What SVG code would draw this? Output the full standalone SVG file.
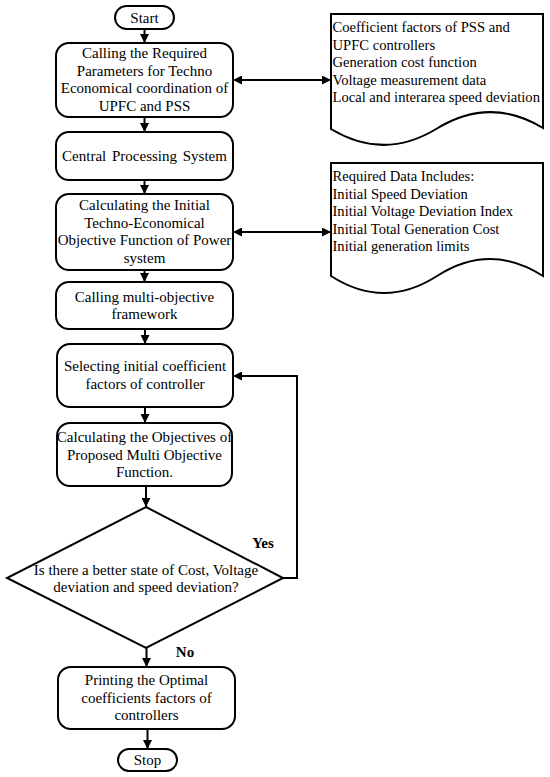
<svg xmlns="http://www.w3.org/2000/svg" width="550" height="777" viewBox="0 0 550 777">
<style>
.box{fill:#fff;stroke:#000;stroke-width:2}
.t{font-family:"Liberation Serif","Times New Roman",serif;font-size:15px;fill:#000}
.d{font-size:14.6px}
.c{text-anchor:middle}
.b{font-weight:bold}
.ln{fill:none;stroke:#000;stroke-width:2}
</style>
<defs>
<marker id="ah" viewBox="0 0 10 10" refX="10" refY="5" markerWidth="9" markerHeight="9" markerUnits="userSpaceOnUse" orient="auto-start-reverse">
<path d="M0,0 L10,5 L0,10 z" fill="#000"/>
</marker>
</defs>
<rect width="550" height="777" fill="#fff"/>
<g id="connectors">
<line class="ln" x1="144.5" y1="29" x2="144.5" y2="43" marker-end="url(#ah)"/>
<line class="ln" x1="144.5" y1="117" x2="144.5" y2="132" marker-end="url(#ah)"/>
<line class="ln" x1="144.5" y1="180" x2="144.5" y2="194" marker-end="url(#ah)"/>
<line class="ln" x1="144.5" y1="270" x2="144.5" y2="282" marker-end="url(#ah)"/>
<line class="ln" x1="145" y1="329" x2="145" y2="344" marker-end="url(#ah)"/>
<line class="ln" x1="145" y1="407" x2="145" y2="423" marker-end="url(#ah)"/>
<line class="ln" x1="146" y1="486" x2="146" y2="507" marker-end="url(#ah)"/>
<line class="ln" x1="146.5" y1="648" x2="146.5" y2="667" marker-end="url(#ah)"/>
<line class="ln" x1="147.5" y1="729" x2="147.5" y2="749" marker-end="url(#ah)"/>
<line class="ln" x1="233" y1="80" x2="331" y2="80" marker-start="url(#ah)" marker-end="url(#ah)"/>
<line class="ln" x1="233" y1="232" x2="331" y2="232" marker-start="url(#ah)" marker-end="url(#ah)"/>
<polyline class="ln" points="283,578 297,578 297,376 233,376" marker-end="url(#ah)"/>
<text class="t b c" x="263" y="548">Yes</text>
<text class="t b c" x="185" y="657">No</text>
</g>
<g id="start">
<rect class="box" x="115" y="6" width="59" height="23" rx="11.5"/>
<text class="t c" x="144.5" y="22.5">Start</text>
</g>
<g id="params">
<rect class="box" x="56" y="43" width="177" height="74" rx="13"/>
<text class="t c" x="144.5" y="58">Calling the Required</text>
<text class="t c" x="144.5" y="75.5">Parameters for Techno</text>
<text class="t c" x="144.5" y="93">Economical coordination of</text>
<text class="t c" x="144.5" y="110.5">UPFC and PSS</text>
</g>
<g id="cps">
<rect class="box" x="56" y="132" width="177" height="48" rx="13"/>
<text class="t c" x="144.5" y="161" word-spacing="2">Central Processing System</text>
</g>
<g id="initial">
<rect class="box" x="56" y="194" width="177" height="76" rx="13"/>
<text class="t c" x="144.5" y="210">Calculating the Initial</text>
<text class="t c" x="144.5" y="227.5">Techno-Economical</text>
<text class="t c" x="144.5" y="245">Objective Function of Power</text>
<text class="t c" x="144.5" y="262.5">system</text>
</g>
<g id="multi">
<rect class="box" x="56" y="282" width="177" height="47" rx="13"/>
<text class="t c" x="144.5" y="301.5">Calling multi-objective</text>
<text class="t c" x="144.5" y="319">framework</text>
</g>
<g id="select">
<rect class="box" x="57" y="344" width="176" height="63" rx="13"/>
<text class="t c" x="145" y="371">Selecting initial coefficient</text>
<text class="t c" x="145" y="388.5">factors of controller</text>
</g>
<g id="objectives">
<rect class="box" x="57" y="423" width="175" height="63" rx="13"/>
<text class="t c" x="144.5" y="442">Calculating the Objectives of</text>
<text class="t c" x="144.5" y="459.5">Proposed Multi Objective</text>
<text class="t c" x="144.5" y="477">Function.</text>
</g>
<g id="decision">
<polygon class="box" points="146,507 283,578 146,648 7,578"/>
<text class="t c" x="146" y="575">Is there a better state of Cost, Voltage</text>
<text class="t c" x="146" y="592">deviation and speed deviation?</text>
</g>
<g id="print">
<rect class="box" x="58" y="667" width="177" height="62" rx="13"/>
<text class="t c" x="146.5" y="685">Printing the Optimal</text>
<text class="t c" x="146.5" y="702.5">coefficients factors of</text>
<text class="t c" x="146.5" y="720">controllers</text>
</g>
<g id="stop">
<rect class="box" x="118" y="749" width="59" height="22" rx="11"/>
<text class="t c" x="147.5" y="765">Stop</text>
</g>
<g id="doc1">
<path class="box" d="M331,14 L543,14 L543,128 Q490,96 437,128.5 Q384,161 331,129 Z"/>
<text class="t d" x="332.5" y="32">Coefficient factors of PSS and</text>
<text class="t d" x="332.5" y="49.5">UPFC controllers</text>
<text class="t d" x="332.5" y="67">Generation cost function</text>
<text class="t d" x="332.5" y="84.5">Voltage measurement data</text>
<text class="t d" x="332.5" y="102">Local and interarea speed deviation</text>
</g>
<g id="doc2">
<path class="box" d="M331,163 L543,163 L543,276 Q490,242 437,276 Q384,310 331,276 Z"/>
<text class="t d" x="332.5" y="181">Required Data Includes:</text>
<text class="t d" x="332.5" y="198.5">Initial Speed Deviation</text>
<text class="t d" x="332.5" y="216">Initial Voltage Deviation Index</text>
<text class="t d" x="332.5" y="233.5">Initial Total Generation Cost</text>
<text class="t d" x="332.5" y="251">Initial generation limits</text>
</g>
</svg>
